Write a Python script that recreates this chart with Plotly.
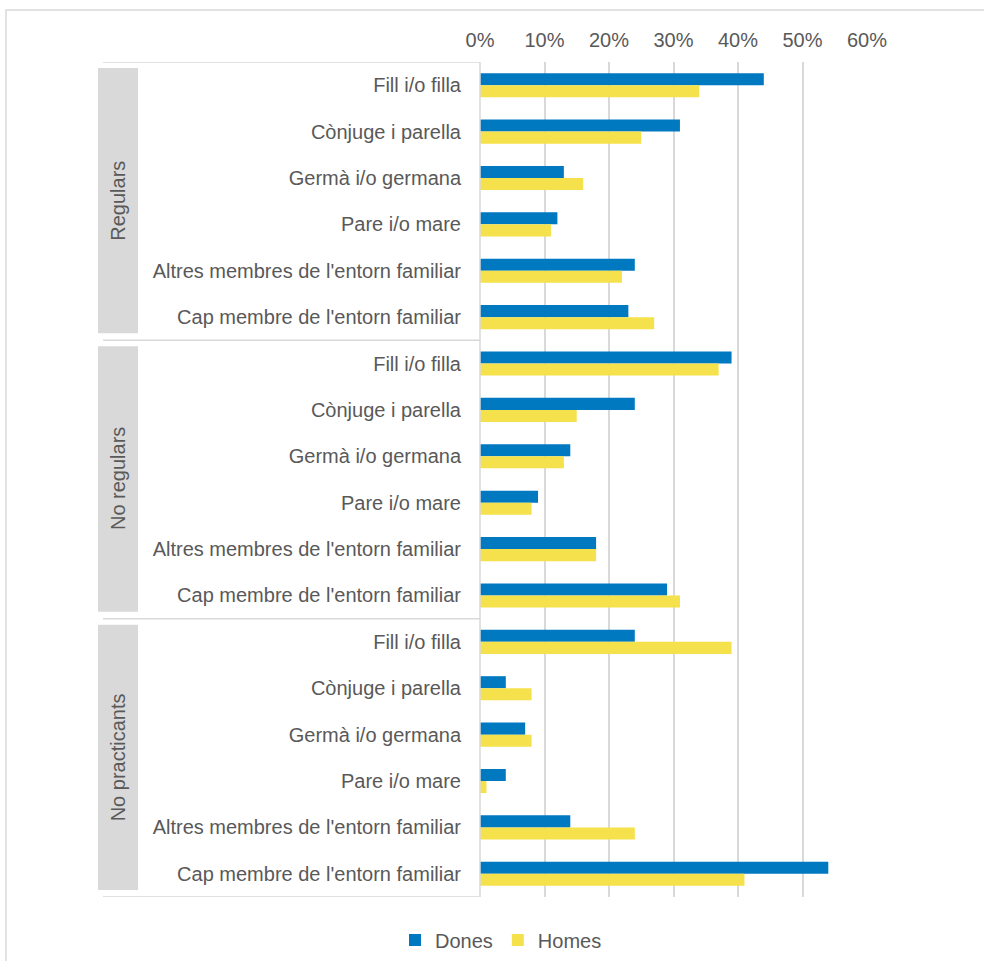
import plotly.graph_objects as go

groups = ["Regulars", "No regulars", "No practicants"]
relations = ["Fill i/o filla", "Cònjuge i parella", "Germà i/o germana", "Pare i/o mare",
             "Altres membres de l'entorn familiar", "Cap membre de l'entorn familiar"]

dones_regulars = [44, 31, 13, 12, 24, 23]
homes_regulars = [34, 25, 16, 11, 22, 27]
dones_noregulars = [39, 24, 14, 9, 18, 29]
homes_noregulars = [37, 15, 13, 8, 18, 31]
dones_nopract = [24, 4, 7, 4, 14, 54]
homes_nopract = [39, 8, 8, 1, 24, 41]

x_ticks = [0, 0.1, 0.2, 0.3, 0.4, 0.5, 0.6]

dones = [v / 100 for v in dones_regulars + dones_noregulars + dones_nopract]
homes = [v / 100 for v in homes_regulars + homes_noregulars + homes_nopract]
n_rel = len(relations)
ypos = list(range(len(groups) * n_rel))
ylabels = relations * len(groups)

BLUE = "#0079C1"
YELLOW = "#F5E14B"
TXT = "#595959"
GRID = "#D9D9D9"
FONT = "Liberation Sans, Arial, sans-serif"
FS = 20

# pixel layout
W, H = 984, 961
L, R, T, B = 480, 867, 62, 897
pw, ph = R - L, B - T


def px_x(p):
    return (p - L) / pw


def px_y(p):
    return (B - p) / ph


fig = go.Figure()
fig.add_trace(go.Bar(y=ypos, x=dones, orientation="h", name="Dones",
                     marker=dict(color=BLUE, line=dict(width=0))))
fig.add_trace(go.Bar(y=ypos, x=homes, orientation="h", name="Homes",
                     marker=dict(color=YELLOW, line=dict(width=0))))

shapes = []
# outer border
shapes.append(dict(type="rect", xref="paper", yref="paper",
                   x0=px_x(6), x1=px_x(W + 20), y0=px_y(H + 20), y1=px_y(10),
                   line=dict(color=GRID, width=1.5), fillcolor="rgba(0,0,0,0)", layer="below"))
# separators
for i in range(len(groups) + 1):
    yv = i * n_rel - 0.5
    shapes.append(dict(type="line", xref="paper", yref="y",
                       x0=px_x(103), x1=0, y0=yv, y1=yv,
                       line=dict(color=GRID, width=1.5)))
# vertical axis line
shapes.append(dict(type="line", xref="paper", yref="paper", x0=0, x1=0, y0=0, y1=1,
                   line=dict(color=GRID, width=1.5)))
annotations = []
for gi, g in enumerate(groups):
    y0 = gi * n_rel - 0.5 + 0.13
    y1 = gi * n_rel + n_rel - 0.5 - 0.15
    shapes.append(dict(type="rect", xref="paper", yref="y",
                       x0=px_x(98), x1=px_x(138), y0=y0, y1=y1,
                       fillcolor="#D9D9D9", line=dict(width=0), layer="below"))
    annotations.append(dict(xref="paper", yref="y", x=px_x(118), y=(y0 + y1) / 2,
                            text=g, textangle=-90, showarrow=False,
                            font=dict(family=FONT, size=FS, color=TXT),
                            xanchor="center", yanchor="middle"))

fig.update_layout(
    width=W, height=H,
    margin=dict(l=L, r=W - R, t=T, b=H - B, pad=0, autoexpand=False),
    paper_bgcolor="white", plot_bgcolor="white",
    barmode="group", bargap=0.48, bargroupgap=0,
    font=dict(family=FONT, size=FS, color=TXT),
    shapes=shapes, annotations=annotations,
    showlegend=True,
    legend=dict(orientation="h", x=px_x(501), xanchor="center",
                yref="container", y=(H - 940) / H, yanchor="middle",
                font=dict(family=FONT, size=FS, color=TXT),
                itemwidth=30, traceorder="normal", tracegroupgap=0,
                bgcolor="rgba(0,0,0,0)"),
)
fig.update_xaxes(range=[0, 0.6], side="top", tickvals=x_ticks, tickformat=".0%",
                 showgrid=True, gridcolor=GRID, gridwidth=1.5, zeroline=False,
                 showline=False, ticks="", ticklabelstandoff=10,
                 tickfont=dict(family=FONT, size=FS, color=TXT), fixedrange=True)
fig.update_yaxes(range=[len(ypos) - 0.5, -0.5], tickvals=ypos, ticktext=ylabels,
                 showgrid=False, zeroline=False, showline=False, ticks="",
                 ticklabelstandoff=18,
                 tickfont=dict(family=FONT, size=FS, color=TXT), fixedrange=True)

fig.write_html("out.html")
